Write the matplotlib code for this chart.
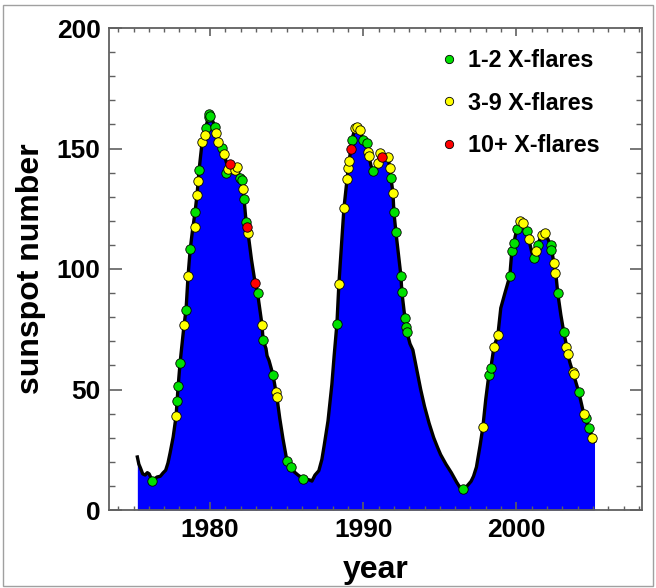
import matplotlib
matplotlib.use("Agg")
import matplotlib.pyplot as plt
from matplotlib.ticker import MultipleLocator
from matplotlib.lines import Line2D
from matplotlib.patches import Rectangle

plt.rcParams['font.family'] = ['Liberation Sans', 'DejaVu Sans']
plt.rcParams['font.weight'] = 'bold'

# smoothed monthly sunspot number
years = [1975.25, 1975.35, 1975.45, 1975.6, 1975.76, 1975.9, 1976.02, 1976.2, 1976.35, 1976.54,
         1976.75, 1976.93, 1977.1, 1977.25, 1977.39, 1977.59, 1977.78, 1977.91, 1978.04, 1978.30,
         1978.43, 1978.56, 1978.70, 1978.85, 1979.02, 1979.15, 1979.28, 1979.48, 1979.67, 1979.85,
         1979.95, 1980.1, 1980.33, 1980.52, 1980.78, 1980.91, 1981.05, 1981.17, 1981.4, 1981.63,
         1981.76, 1981.96, 1982.15, 1982.22, 1982.35, 1982.48, 1982.7, 1982.94, 1983.10, 1983.25,
         1983.39, 1983.46, 1983.65, 1983.72, 1983.85, 1984.11, 1984.30, 1984.37, 1984.55, 1984.76,
         1985.02, 1985.28, 1985.5, 1985.74, 1986.07, 1986.3, 1986.52, 1986.65, 1986.85, 1987.1,
         1987.3, 1987.45, 1987.7, 1987.95, 1988.1, 1988.28, 1988.41, 1988.6, 1988.74, 1988.94,
         1989.07, 1989.20, 1989.26, 1989.46, 1989.6, 1989.78, 1989.98, 1990.24, 1990.31, 1990.37,
         1990.5, 1990.63, 1990.8, 1990.96, 1991.09, 1991.22, 1991.4, 1991.61, 1991.74, 1991.81,
         1991.94, 1992.00, 1992.13, 1992.3, 1992.46, 1992.52, 1992.72, 1992.85, 1993.05, 1993.24,
         1993.5, 1993.75, 1994.0, 1994.3, 1994.6, 1994.85, 1995.05, 1995.4, 1995.75, 1996.1,
         1996.3, 1996.46, 1996.65, 1996.85, 1997.04, 1997.2, 1997.39, 1997.63, 1997.81, 1998.0,
         1998.20, 1998.33, 1998.53, 1998.79, 1998.98, 1999.25, 1999.57, 1999.70, 1999.83, 2000.03,
         2000.25, 2000.4, 2000.68, 2000.81, 2001.0, 2001.13, 2001.27, 2001.40, 2001.6, 2001.79,
         2001.95, 2002.15, 2002.31, 2002.44, 2002.57, 2002.70, 2002.9, 2003.09, 2003.29, 2003.35,
         2003.5, 2003.68, 2004.07, 2004.25, 2004.40, 2004.72, 2004.98, 2005.1]
ssn = [22.0, 19.0, 17.5, 15.0, 14.5, 15.5, 15.0, 12.5, 12.8, 13.7,
       14.0, 15.4, 16.5, 19.5, 23.7, 30.3, 39.0, 51.0, 61.0, 76.8,
       83.0, 97.0, 108.0, 116.0, 123.7, 131.0, 141.0, 152.7, 157.5, 162.0,
       164.0, 162.5, 158.9, 152.7, 150.2, 147.7, 144.5, 142.5, 141.5, 141.5,
       142.0, 137.8, 133.2, 129.0, 119.5, 114.9, 104.0, 94.2, 90.0, 83.0,
       76.8, 70.5, 67.0, 64.0, 62.0, 56.0, 49.0, 46.5, 38.0, 29.5,
       20.3, 17.8, 15.8, 14.5, 13.0, 12.8, 12.4, 12.0, 14.5, 16.3,
       21.0, 26.8, 37.0, 52.0, 64.0, 77.2, 93.8, 112.0, 125.3, 137.3,
       144.8, 149.8, 153.5, 158.5, 158.5, 157.7, 153.5, 152.3, 148.5, 146.9,
       143.0, 140.7, 141.5, 144.0, 148.1, 147.0, 146.5, 146.5, 141.9, 137.8,
       131.5, 123.7, 115.4, 106.0, 97.1, 90.5, 79.7, 73.9, 69.0, 66.4,
       58.0, 50.0, 43.0, 36.0, 30.0, 26.0, 23.0, 19.0, 15.5, 11.5,
       9.5, 8.5, 9.0, 10.5, 11.9, 14.0, 17.8, 26.8, 34.4, 46.0,
       56.0, 58.9, 67.6, 72.6, 83.8, 90.0, 97.1, 107.5, 110.8, 116.6,
       119.8, 119.5, 115.8, 112.4, 107.0, 104.6, 106.5, 110.0, 113.5, 114.9,
       114.0, 111.0, 107.9, 102.5, 98.3, 90.0, 81.0, 73.9, 67.6, 64.7,
       61.0, 57.3, 49.0, 44.0, 39.8, 34.0, 29.9, 28.5]

# months with 1-2 X-class flares
g_years = [1976.24, 1977.83, 1977.89, 1978.06, 1978.43, 1978.70, 1979.02, 1979.30, 1979.74, 1979.90,
           1979.95, 1980.00, 1980.33, 1980.76, 1981.04, 1981.96, 1982.07, 1982.22, 1982.35, 1983.11,
           1983.44, 1984.13, 1985.00, 1985.26, 1986.09,
           1988.26, 1989.24, 1990.00, 1990.22, 1990.61, 1991.81, 1992.02, 1992.11, 1992.44, 1992.51,
           1992.72, 1992.79, 1992.87,
           1996.50, 1998.22, 1998.33, 1999.57, 1999.72, 1999.83, 2000.05, 2000.66, 2001.16, 2001.42,
           2002.24, 2002.29, 2002.72, 2003.11, 2004.09, 2004.57, 2004.72]
g_vals = [12.0, 45.2, 51.5, 60.9, 83.0, 108.3, 123.7, 141.1, 158.4, 163.0,
          164.2, 163.5, 159.0, 150.3, 139.7, 137.9, 136.9, 129.0, 119.6, 90.2,
          70.5, 56.0, 20.3, 18.0, 12.7,
          77.2, 153.5, 153.5, 152.2, 140.7, 137.9, 123.5, 115.2, 97.1, 90.3,
          79.5, 76.1, 73.7,
          8.7, 56.0, 58.8, 97.2, 107.6, 110.9, 116.5, 115.9, 104.4, 110.0,
          110.0, 107.9, 89.9, 73.7, 49.1, 38.0, 34.1]

# months with 3-9 X-class flares
y_years = [1977.76, 1978.32, 1978.58, 1979.02, 1979.13, 1979.24, 1979.46, 1979.67, 1980.39, 1980.54,
           1980.91, 1981.20, 1981.63, 1981.74, 1982.17, 1982.50, 1983.37, 1984.28, 1984.35,
           1988.43, 1988.74, 1988.92, 1989.02, 1989.09, 1989.46, 1989.61, 1989.78, 1990.33, 1990.37,
           1990.98, 1991.09, 1991.63, 1991.74, 1991.92,
           1997.79, 1998.55, 1998.81, 2000.22, 2000.44, 2000.81, 2001.27, 2001.64, 2001.85, 2002.46,
           2002.55, 2003.27, 2003.37, 2003.70, 2003.75, 2004.42, 2004.96]
y_vals = [39.1, 76.6, 97.2, 117.4, 130.7, 136.5, 152.8, 155.6, 156.3, 152.8,
          147.7, 141.4, 141.1, 142.5, 133.2, 114.8, 76.9, 49.1, 47.0,
          93.6, 125.4, 137.3, 141.8, 144.9, 158.4, 159.0, 157.7, 148.7, 147.0,
          143.9, 148.0, 146.6, 141.8, 131.7,
          34.6, 67.5, 72.6, 120.0, 119.2, 112.4, 107.5, 114.1, 114.8, 102.4,
          98.2, 67.8, 64.7, 57.4, 56.5, 39.8, 29.8]

# months with 10+ X-class flares
r_years = [1981.30, 1982.43, 1982.94, 1989.18, 1991.20]
r_vals = [143.4, 117.3, 94.3, 149.7, 146.6]

legend_labels = ['1-2 X-flares', '3-9 X-flares', '10+ X-flares']
green, yellow, red = '#00e000', '#ffff00', '#ff0000'

fig = plt.figure(figsize=(6.56, 5.88), dpi=100)
ax = fig.add_axes([109/656, 1 - 510/588, 533/656, 482/588])

ax.fill_between(years, ssn, 0, color='#0000ff', lw=0, zorder=1)
ax.plot(years, ssn, color='black', lw=2.4, zorder=2, solid_joinstyle='round')

ms = 46
for xs, vs, c in [(g_years, g_vals, green), (y_years, y_vals, yellow), (r_years, r_vals, red)]:
    ax.scatter(xs, vs, s=ms, c=c, edgecolors='black', linewidths=0.6, zorder=3)

ax.set_xlim(1973.4, 2008.2)
ax.set_ylim(0, 200)
ax.xaxis.set_major_locator(MultipleLocator(10))
ax.xaxis.set_minor_locator(MultipleLocator(1))
ax.yaxis.set_major_locator(MultipleLocator(50))
ax.yaxis.set_minor_locator(MultipleLocator(10))
frame_c = '#606060'
ax.tick_params(axis='x', which='major', direction='in', length=6, width=1.2, color=frame_c,
               top=True, labelsize=19, pad=6)
ax.tick_params(axis='x', which='minor', direction='in', length=3, width=1.0, color=frame_c, top=True)
ax.tick_params(axis='y', which='major', direction='in', length=9, width=1.2, color=frame_c,
               right=True, labelsize=19, pad=6)
ax.tick_params(axis='y', which='minor', direction='in', length=4, width=1.0, color=frame_c, right=True)
for lab in ax.get_xticklabels() + ax.get_yticklabels():
    lab.set_fontweight('bold')
for sp in ax.spines.values():
    sp.set_color(frame_c)
    sp.set_linewidth(1.3)

ax.set_xlabel('year', fontsize=23, fontweight='bold', labelpad=9)
ax.set_ylabel('sunspot number', fontsize=23, fontweight='bold', labelpad=8)

handles = [Line2D([], [], ls='none', marker='o', markersize=6, markerfacecolor=c,
                  markeredgecolor='black', markeredgewidth=0.6) for c in (green, yellow, red)]
leg = ax.legend(handles, legend_labels, loc='upper left', bbox_to_anchor=(0.620, 0.957),
                frameon=False, fontsize=16.8, handlelength=0.8, handletextpad=0.42,
                labelspacing=0.85, borderpad=0, borderaxespad=0)
for t in leg.get_texts():
    t.set_fontweight('bold')

fig.patches.append(Rectangle((0.004, 0.004), 0.992, 0.988, transform=fig.transFigure,
                             fill=False, edgecolor='#a0a0a0', lw=1.0))

fig.savefig('out.png', dpi=100)
